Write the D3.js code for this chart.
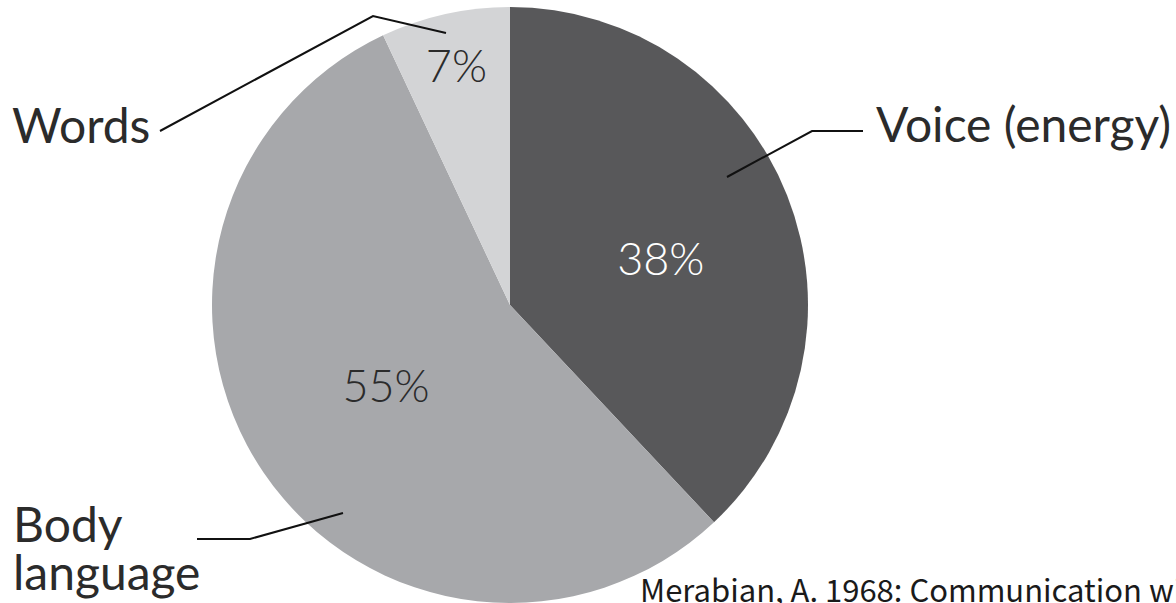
<!DOCTYPE html>
<html>
<head>
<meta charset="utf-8">
<script src="https://d3js.org/d3.v7.min.js"></script>
<style>
  * { margin: 0; padding: 0; }
  body { background: #fff; width: 1176px; height: 603px; overflow: hidden; }
  svg { display: block; }
  .lbl { font-family: "Lato", sans-serif; font-size: 48px; fill: #2b2b2b; }
  .pct { font-family: "Lato", sans-serif; font-weight: 300; font-size: 45px; }
  .src { font-family: "Noto Sans CJK JP", sans-serif; font-size: 31px; fill: #1a1a1a; }
</style>
</head>
<body>
<div id="chart"></div>
<script>
const categories = ["Voice (energy)", "Body language", "Words"];
const values = [38, 55, 7];
const colors = ["#58585a", "#a7a8ab", "#d3d4d6"];
const pctColors = ["#ffffff", "#2b2b2b", "#2b2b2b"];
const source = "Merabian, A. 1968: Communication without words";

const width = 1176, height = 603;
const cx = 510, cy = 305, radius = 298;

const svg = d3.select("#chart").append("svg")
  .attr("width", width).attr("height", height);

const pie = d3.pie().sort(null).value(d => d);
const arcs = pie(values);
const arc = d3.arc().innerRadius(0).outerRadius(radius);

const g = svg.append("g").attr("transform", `translate(${cx},${cy})`);

g.selectAll("path.slice")
  .data(arcs)
  .enter()
  .append("path")
  .attr("class", "slice")
  .attr("d", arc)
  .attr("fill", (d, i) => colors[i]);

// percentage labels: radius fraction and small angle nudge (degrees) per slice
const pctPlace = [[0.53, 4.3], [0.495, 1.4], [0.825, 0]];
function pctPos(d, i) {
  const a = (d.startAngle + d.endAngle) / 2 + pctPlace[i][1] * Math.PI / 180;
  const r = radius * pctPlace[i][0];
  return [r * Math.sin(a), -r * Math.cos(a)];
}
g.selectAll("text.pct")
  .data(arcs)
  .enter()
  .append("text")
  .attr("class", "pct")
  .attr("text-anchor", "middle")
  .attr("x", (d, i) => pctPos(d, i)[0])
  .attr("y", (d, i) => pctPos(d, i)[1] + 17)
  .attr("fill", (d, i) => pctColors[i])
  .text(d => d.data + "%");

// leader lines: start inside slice, elbow, end near label
const leaders = [
  [[727, 177], [812, 131], [863, 131]],
  [[343, 513], [250, 539], [197, 539]],
  [[446, 33], [373, 16], [160, 131]]
];
const line = d3.line();
svg.selectAll("path.leader")
  .data(leaders)
  .enter()
  .append("path")
  .attr("class", "leader")
  .attr("d", d => line(d))
  .attr("fill", "none")
  .attr("stroke", "#111")
  .attr("stroke-width", 2);

// category labels
svg.append("text").attr("class", "lbl").attr("x", 876).attr("y", 142).text(categories[0]);
const body = svg.append("text").attr("class", "lbl").attr("x", 13).attr("y", 542);
body.append("tspan").attr("x", 13).text(categories[1].split(" ")[0]);
body.append("tspan").attr("x", 13).attr("y", 590).text(categories[1].split(" ")[1]);
svg.append("text").attr("class", "lbl").attr("x", 12).attr("y", 143).text(categories[2]);

svg.append("text").attr("class", "src").attr("x", 640).attr("y", 602).text(source);
</script>
</body>
</html>
